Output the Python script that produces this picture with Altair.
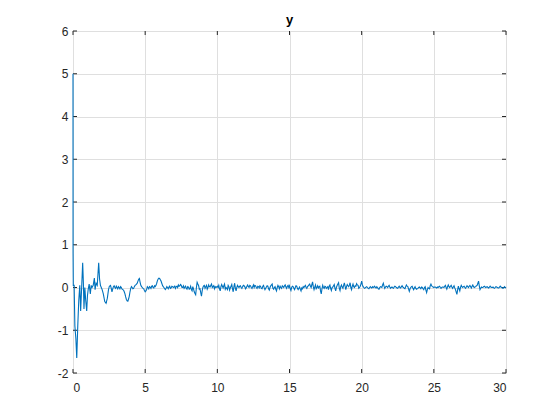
import altair as alt
import pandas as pd

# early transient (irregular sample times)
t_early = [0.0, 0.005, 0.02, 0.08, 0.13, 0.2, 0.26, 0.33, 0.4, 0.47, 0.53, 0.6, 0.67, 0.72,
           0.76, 0.82, 0.88, 0.95, 1.0, 1.05, 1.12, 1.2, 1.26, 1.32, 1.4, 1.48, 1.53,
           1.6, 1.68, 1.78, 1.84, 1.9, 1.96, 2.02, 2.1, 2.2, 2.29, 2.38, 2.46, 2.52]
y_early = [5.0, 0.8, 0.05, 0.05, -0.9, -1.2, -1.65, -0.9, -0.3, 0.05, -0.55, 0.0, 0.58, 0.1,
           -0.5, 0.0, -0.3, -0.55, -0.2, -0.05, 0.08, -0.15, 0.05, 0.0, 0.05, 0.22, -0.05,
           0.1, 0.05, 0.58, 0.2, 0.05, 0.0, -0.05, -0.15, -0.33, -0.37, -0.25, -0.05, 0.03]

# steady part, sampled every 0.1 s from 2.6 s to 30.0 s
t_start = 2.6
t_step = 0.1
y_steady = [
    0.05, -0.1, 0.02, 0.0,                                            # 2.6-2.9
    0.03, -0.03, 0.0, 0.02, -0.04, -0.06, -0.15, -0.28, -0.32, -0.2,  # 3.x
    -0.02, 0.0, -0.02, 0.05, 0.08, 0.15, 0.21, 0.05, 0.0, -0.03,      # 4.x
    -0.1, -0.05, 0.0, 0.02, -0.02, 0.04, -0.01, 0.02, 0.1, 0.2,       # 5.x
    0.21, 0.15, 0.05, 0.0, -0.05, 0.02, -0.03, 0.03, -0.01, 0.02,     # 6.x
    0.01, -0.02, 0.03, 0.06, 0.04, 0.05, 0.0, -0.02, 0.03, -0.04,     # 7.x
    0.01, -0.02, -0.05, 0.02, -0.1, -0.17, 0.12, 0.05, -0.03, -0.2,   # 8.x
    0.0, 0.05, 0.02, -0.04, 0.06, 0.01, 0.08, 0.02, -0.03, 0.0,       # 9.x
    0.03, 0.05, -0.08, 0.07, -0.01, 0.08, 0.0, -0.05, 0.02, -0.01,    # 10.x
    0.07, -0.1, 0.1, -0.08, 0.05, 0.0, 0.04, -0.02, 0.05, 0.02,       # 11.x
    -0.01, 0.06, 0.0, 0.04, -0.02, 0.06, 0.05, 0.0, 0.03, -0.01,      # 12.x
    0.02, -0.03, 0.05, -0.05, 0.01, 0.03, -0.06, 0.04, 0.08, -0.04,   # 13.x
    0.02, -0.08, 0.05, -0.03, 0.0, 0.04, 0.0, 0.06, -0.02, 0.05,      # 14.x
    0.04, -0.07, 0.03, -0.02, 0.0, 0.03, -0.05, 0.01, -0.08, -0.03,   # 15.x
    0.0, 0.05, -0.02, 0.04, 0.08, 0.0, 0.13, -0.05, 0.06, 0.0,        # 16.x
    -0.01, 0.03, -0.15, 0.05, -0.02, 0.02, 0.0, -0.05, 0.06, -0.07,   # 17.x
    0.01, 0.07, -0.08, 0.05, 0.11, -0.07, 0.06, -0.02, 0.11, -0.05,   # 18.x
    0.07, 0.02, 0.11, -0.05, 0.08, 0.0, 0.03, 0.06, -0.02, 0.03,      # 19.x
    0.15, 0.02, -0.02, 0.01, 0.0, -0.03, 0.02, -0.01, 0.0, 0.03,      # 20.x
    -0.01, 0.0, -0.04, 0.02, 0.0, 0.1, -0.02, 0.03, 0.0, 0.05,        # 21.x
    -0.02, 0.01, -0.02, 0.03, 0.0, -0.02, 0.03, -0.01, 0.04, 0.0,     # 22.x
    -0.03, 0.06, 0.02, -0.09, 0.0, 0.03, -0.05, 0.02, -0.04, -0.02,   # 23.x
    0.01, -0.03, 0.0, -0.05, 0.02, -0.12, 0.0, -0.03, 0.08, 0.02,     # 24.x
    0.0, 0.01, -0.01, 0.0, 0.03, -0.02, 0.01, 0.0, 0.05, -0.04,       # 25.x
    0.06, 0.0, 0.05, -0.02, 0.04, -0.05, -0.16, 0.03, -0.08, 0.05,    # 26.x
    0.0, 0.03, -0.02, 0.04, 0.0, 0.05, -0.01, 0.06, 0.0, 0.02,        # 27.x
    0.05, 0.15, -0.05, 0.01, 0.0, 0.03, 0.0, 0.02, -0.01, 0.03,       # 28.x
    0.0, 0.01, -0.02, 0.02, 0.0, -0.01, 0.03, 0.0, -0.02, 0.02,       # 29.x
    -0.01,                                                            # 30.0
]

# in-between samples, every 0.1 s from 2.65 s to 29.95 s
t_mid_start = 2.65
y_mid = [
    -0.02, -0.04, 0.04, -0.02,                                          # 2.65-2.95
    0.0, 0.02, -0.03, 0.0, -0.05, -0.1, -0.22, -0.31, -0.27, -0.1,      # 3.x5
    0.02, -0.03, 0.02, 0.06, 0.1, 0.19, 0.12, 0.02, -0.02, -0.07,       # 4.x5
    -0.08, 0.02, -0.03, 0.01, 0.03, 0.0, 0.04, 0.05, 0.16, 0.22,        # 5.x5
    0.18, 0.1, 0.02, -0.03, -0.02, 0.0, 0.01, -0.02, 0.03, 0.0,         # 6.x5
    0.03, 0.02, 0.0, 0.03, 0.07, 0.0, 0.04, 0.01, -0.02, 0.02,          # 7.x5
    -0.04, 0.03, -0.08, -0.03, -0.14, 0.0, 0.08, -0.04, -0.12, -0.08,   # 8.x5
    0.04, -0.02, 0.05, 0.0, 0.02, 0.05, 0.0, 0.04, 0.02, 0.01,          # 9.x5
    0.0, -0.03, 0.02, 0.03, 0.04, -0.04, -0.02, 0.05, -0.06, 0.03,      # 10.x5
    -0.03, 0.02, -0.02, 0.0, 0.02, 0.03, 0.0, 0.02, 0.04, -0.03,        # 11.x5
    0.03, 0.02, 0.05, 0.0, 0.02, 0.0, 0.04, -0.02, 0.02, 0.04,          # 12.x5
    -0.02, 0.03, -0.01, -0.02, 0.04, -0.03, 0.0, 0.06, -0.02, 0.0,      # 13.x5
    -0.04, 0.0, 0.02, 0.03, -0.02, 0.02, 0.04, 0.01, 0.03, 0.0,         # 14.x5
    -0.03, 0.0, 0.02, -0.05, 0.04, -0.02, -0.02, -0.04, -0.01, 0.02,    # 15.x5
    0.03, 0.0, 0.02, 0.06, 0.03, 0.07, 0.02, 0.01, -0.03, 0.04,         # 16.x5
    0.02, -0.08, -0.03, 0.0, 0.03, -0.02, 0.02, 0.03, -0.02, 0.0,       # 17.x5
    0.04, -0.02, 0.0, 0.08, -0.02, 0.02, 0.01, 0.05, 0.03, 0.02,        # 18.x5
    0.04, 0.06, 0.0, 0.03, 0.02, 0.04, 0.09, 0.05, 0.0, 0.08,           # 19.x5
    0.06, 0.0, -0.01, 0.02, -0.02, 0.0, 0.0, 0.02, 0.01, 0.0,           # 20.x5
    0.02, -0.03, 0.0, 0.01, 0.06, 0.03, 0.01, 0.02, 0.03, 0.01,         # 21.x5
    0.0, -0.01, 0.01, 0.02, -0.01, 0.01, 0.0, 0.02, 0.01, -0.02,        # 22.x5
    0.02, 0.03, -0.04, -0.03, 0.02, -0.02, -0.01, -0.02, -0.03, 0.0,    # 23.x5
    -0.01, 0.01, -0.03, 0.0, -0.06, -0.05, -0.02, 0.04, 0.04, 0.01,     # 24.x5
    0.01, 0.0, 0.01, 0.02, 0.0, 0.0, 0.01, 0.03, 0.0, 0.02,             # 25.x5
    0.02, 0.03, 0.01, 0.01, -0.01, -0.11, -0.05, -0.03, 0.0, 0.02,      # 26.x5
    0.02, 0.0, 0.01, 0.02, 0.03, 0.02, 0.03, 0.02, 0.01, 0.04,          # 27.x5
    0.1, 0.04, -0.02, 0.0, 0.02, 0.01, 0.01, 0.0, 0.01, 0.01,           # 28.x5
    0.0, -0.01, 0.0, 0.01, -0.01, 0.01, 0.01, -0.01, 0.0, 0.0,          # 29.x5
]

x_ticks = [0, 5, 10, 15, 20, 25, 30]
y_ticks = [-2, -1, 0, 1, 2, 3, 4, 5, 6]
title_text = "y"

t_steady = [round(t_start + i * t_step, 3) for i in range(len(y_steady))]
t_mid = [round(t_mid_start + i * t_step, 3) for i in range(len(y_mid))]
df = pd.DataFrame({"t": t_early + t_steady + t_mid, "y": y_early + y_steady + y_mid})
df = df.sort_values("t").reset_index(drop=True)
xt = pd.DataFrame({"v": x_ticks})
yt = pd.DataFrame({"v": y_ticks})

W, H = 433, 342
FONT = "Liberation Sans"
AX = "#262626"

xscale = alt.Scale(domain=[0, 30], nice=False, zero=False)
yscale = alt.Scale(domain=[-2, 6], nice=False, zero=False)

line = alt.Chart(df).mark_line(color="#0072BD", strokeWidth=1.1).encode(
    x=alt.X("t:Q", scale=xscale, axis=alt.Axis(
        values=x_ticks, title=None, grid=True, gridColor="#dfdfdf", domain=False,
        ticks=False, labelPadding=9, labelFontSize=12, labelColor=AX, labelFont=FONT,
        labelExpr="datum.value + ''")),
    y=alt.Y("y:Q", scale=yscale, axis=alt.Axis(
        values=y_ticks, title=None, grid=True, gridColor="#dfdfdf", domain=False,
        ticks=False, labelPadding=5, labelFontSize=12, labelColor=AX, labelFont=FONT,
        labelExpr="datum.value + ''")),
    order="t:Q",
)

tick_bottom = alt.Chart(xt).mark_rule(color=AX, strokeWidth=1).encode(
    x=alt.X("v:Q", scale=xscale), y=alt.value(H), y2=alt.value(H - 4))
tick_top = alt.Chart(xt).mark_rule(color=AX, strokeWidth=1).encode(
    x=alt.X("v:Q", scale=xscale), y=alt.value(0), y2=alt.value(4))
tick_left = alt.Chart(yt).mark_rule(color=AX, strokeWidth=1).encode(
    y=alt.Y("v:Q", scale=yscale), x=alt.value(0), x2=alt.value(4))
tick_right = alt.Chart(yt).mark_rule(color=AX, strokeWidth=1).encode(
    y=alt.Y("v:Q", scale=yscale), x=alt.value(W), x2=alt.value(W - 4))

chart = alt.layer(tick_bottom, tick_top, tick_left, tick_right, line).properties(
    width=W, height=H,
    title=alt.TitleParams(title_text, fontSize=13, font=FONT, fontWeight="bold",
                          color="#000000", offset=6, dy=8),
    autosize=alt.AutoSizeParams(type="none"),
    padding={"left": 65, "top": 23, "right": 20, "bottom": 40},
).configure_view(stroke=AX, strokeWidth=1).configure(background="white")

chart.save("out.html", embed_options={"renderer": "svg", "actions": False})
